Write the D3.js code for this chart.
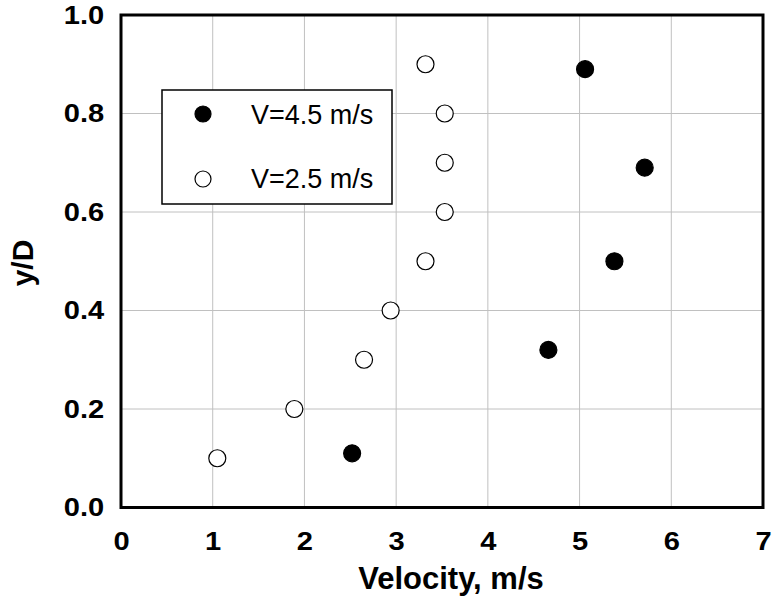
<!DOCTYPE html>
<html>
<head>
<meta charset="utf-8">
<script src="https://cdn.jsdelivr.net/npm/d3@7/dist/d3.min.js"></script>
<style>
  html, body { margin: 0; padding: 0; background: #fff; }
  svg { display: block; font-family: Arial, "Liberation Sans", sans-serif; }
</style>
</head>
<body>
<svg id="chart" width="772" height="603"></svg>
<script>
// Velocity profiles across the depth
const fastVelocity = [2.52, 4.66, 5.38, 5.71, 5.06];
const fastDepth    = [0.11, 0.32, 0.50, 0.69, 0.89];
const slowVelocity = [1.05, 1.89, 2.65, 2.94, 3.32, 3.53, 3.53, 3.53, 3.32];
const slowDepth    = [0.10, 0.20, 0.30, 0.40, 0.50, 0.60, 0.70, 0.80, 0.90];
const seriesNames  = ["V=4.5 m/s", "V=2.5 m/s"];
const xTicks = [0, 1, 2, 3, 4, 5, 6, 7];
const yTicks = [0, 0.2, 0.4, 0.6, 0.8, 1.0];

const svg = d3.select("#chart");
const plotLeft = 121, plotRight = 763, plotTop = 15, plotBottom = 507.5;

const x = d3.scaleLinear().domain([0, 7]).range([plotLeft, plotRight]);
const y = d3.scaleLinear().domain([0, 1]).range([plotBottom, plotTop]);

// grid
const grid = svg.append("g");
grid.selectAll("line.vx").data(xTicks.slice(1, -1)).join("line")
  .attr("x1", d => x(d)).attr("x2", d => x(d))
  .attr("y1", plotTop).attr("y2", plotBottom)
  .attr("stroke", "#c0c0c0").attr("stroke-width", 1);
grid.selectAll("line.hy").data(yTicks.slice(1, -1)).join("line")
  .attr("x1", plotLeft).attr("x2", plotRight)
  .attr("y1", d => y(d)).attr("y2", d => y(d))
  .attr("stroke", "#c0c0c0").attr("stroke-width", 1);

// frame
svg.append("rect")
  .attr("x", plotLeft).attr("y", plotTop)
  .attr("width", plotRight - plotLeft).attr("height", plotBottom - plotTop)
  .attr("fill", "none").attr("stroke", "#000").attr("stroke-width", 3);

// axes (labels only, slightly widened bold digits)
const xAxis = svg.append("g").attr("transform", `translate(0,${plotBottom})`)
  .call(d3.axisBottom(x).tickValues(xTicks).tickFormat(d3.format("d")).tickSize(0).tickPadding(24));
const yAxis = svg.append("g").attr("transform", `translate(${plotLeft},0)`)
  .call(d3.axisLeft(y).tickValues(yTicks).tickFormat(d3.format(".1f")).tickSize(0).tickPadding(15));
[xAxis, yAxis].forEach(a => {
  a.select(".domain").remove();
  a.selectAll("text")
    .attr("font-family", "Arial, 'Liberation Sans', sans-serif")
    .attr("font-size", 26).attr("font-weight", "bold").attr("fill", "#000")
    .attr("transform", "scale(1.12,1)");
});

// axis titles
svg.append("text")
  .attr("x", 451).attr("y", 589)
  .attr("text-anchor", "middle")
  .attr("font-size", 31).attr("font-weight", "bold")
  .text("Velocity, m/s");
svg.append("text")
  .attr("transform", `translate(33,263) rotate(-90)`)
  .attr("text-anchor", "middle")
  .attr("font-size", 30).attr("font-weight", "bold")
  .text("y/D");

// legend
const legend = svg.append("g");
legend.append("rect")
  .attr("x", 162).attr("y", 90).attr("width", 230).attr("height", 114)
  .attr("fill", "#fff").attr("stroke", "#000").attr("stroke-width", 1.5);
const legendRows = [
  { name: seriesNames[0], fill: "#000", cy: 114, base: 124 },
  { name: seriesNames[1], fill: "#fff", cy: 179, base: 188 }
];
legendRows.forEach(r => {
  legend.append("circle").attr("cx", 203).attr("cy", r.cy).attr("r", 8)
    .attr("fill", r.fill).attr("stroke", "#000").attr("stroke-width", 1.2);
  legend.append("text").attr("x", 251).attr("y", r.base)
    .attr("font-size", 27).attr("transform", "").text(r.name);
});

// points
const slow = slowVelocity.map((v, i) => [v, slowDepth[i]]);
const fast = fastVelocity.map((v, i) => [v, fastDepth[i]]);
svg.append("g").selectAll("circle").data(slow).join("circle")
  .attr("cx", d => x(d[0])).attr("cy", d => y(d[1])).attr("r", 8.5)
  .attr("fill", "#fff").attr("stroke", "#000").attr("stroke-width", 1.2);
svg.append("g").selectAll("circle").data(fast).join("circle")
  .attr("cx", d => x(d[0])).attr("cy", d => y(d[1])).attr("r", 8.5)
  .attr("fill", "#000").attr("stroke", "#000").attr("stroke-width", 1.2);
</script>
</body>
</html>
